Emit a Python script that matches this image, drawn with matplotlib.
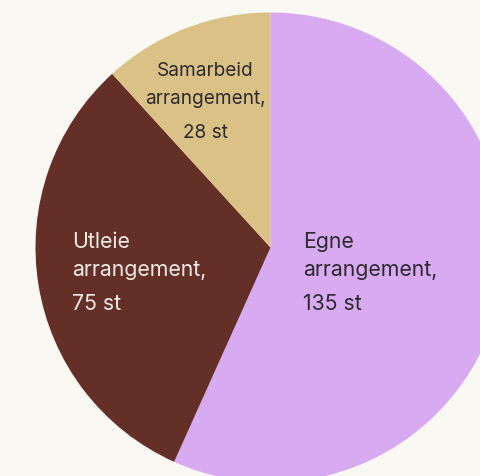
import matplotlib.pyplot as plt

# data
names = ["Egne", "Utleie", "Samarbeid"]
values = [135, 75, 28]
colors = ["#D7AAF1", "#632F27", "#DAC287"]
text_colors = ["#2E2A2E", "#F3ECE6", "#2E2A2E"]

plt.rcParams['font.family'] = ['Inter', 'DejaVu Sans']

fig = plt.figure(figsize=(4.8, 4.77), dpi=100)
fig.patch.set_facecolor("#F9F8F3")
ax = fig.add_axes([0, 0, 1, 1])
ax.set_facecolor("#F9F8F3")

# pie in pixel coords (y up)
ax.pie(values, colors=colors, startangle=90, counterclock=False,
       center=(270.5, 477 - 248.5), radius=235,
       wedgeprops=dict(linewidth=0))
ax.set_xlim(0, 480)
ax.set_ylim(0, 477)
ax.set_aspect('equal')
ax.axis('off')

# label positions (x, centre of first line, alignment, size)
spots = [(303, 242, 'left', 15.3), (72, 242, 'left', 15.3),
         (205, 71, 'center', 13.7)]
for name, v, tc, (x, y, ha, fs) in zip(names, values, text_colors, spots):
    lines = [name, "arrangement,", f"{v} st"]
    for line, dy in zip(lines, [0, 27.5, 62.5]):
        ax.text(x, 477 - (y + dy), line, ha=ha, va='center', fontsize=fs,
                color=tc)

fig.savefig("out.png", dpi=100, facecolor=fig.get_facecolor())
